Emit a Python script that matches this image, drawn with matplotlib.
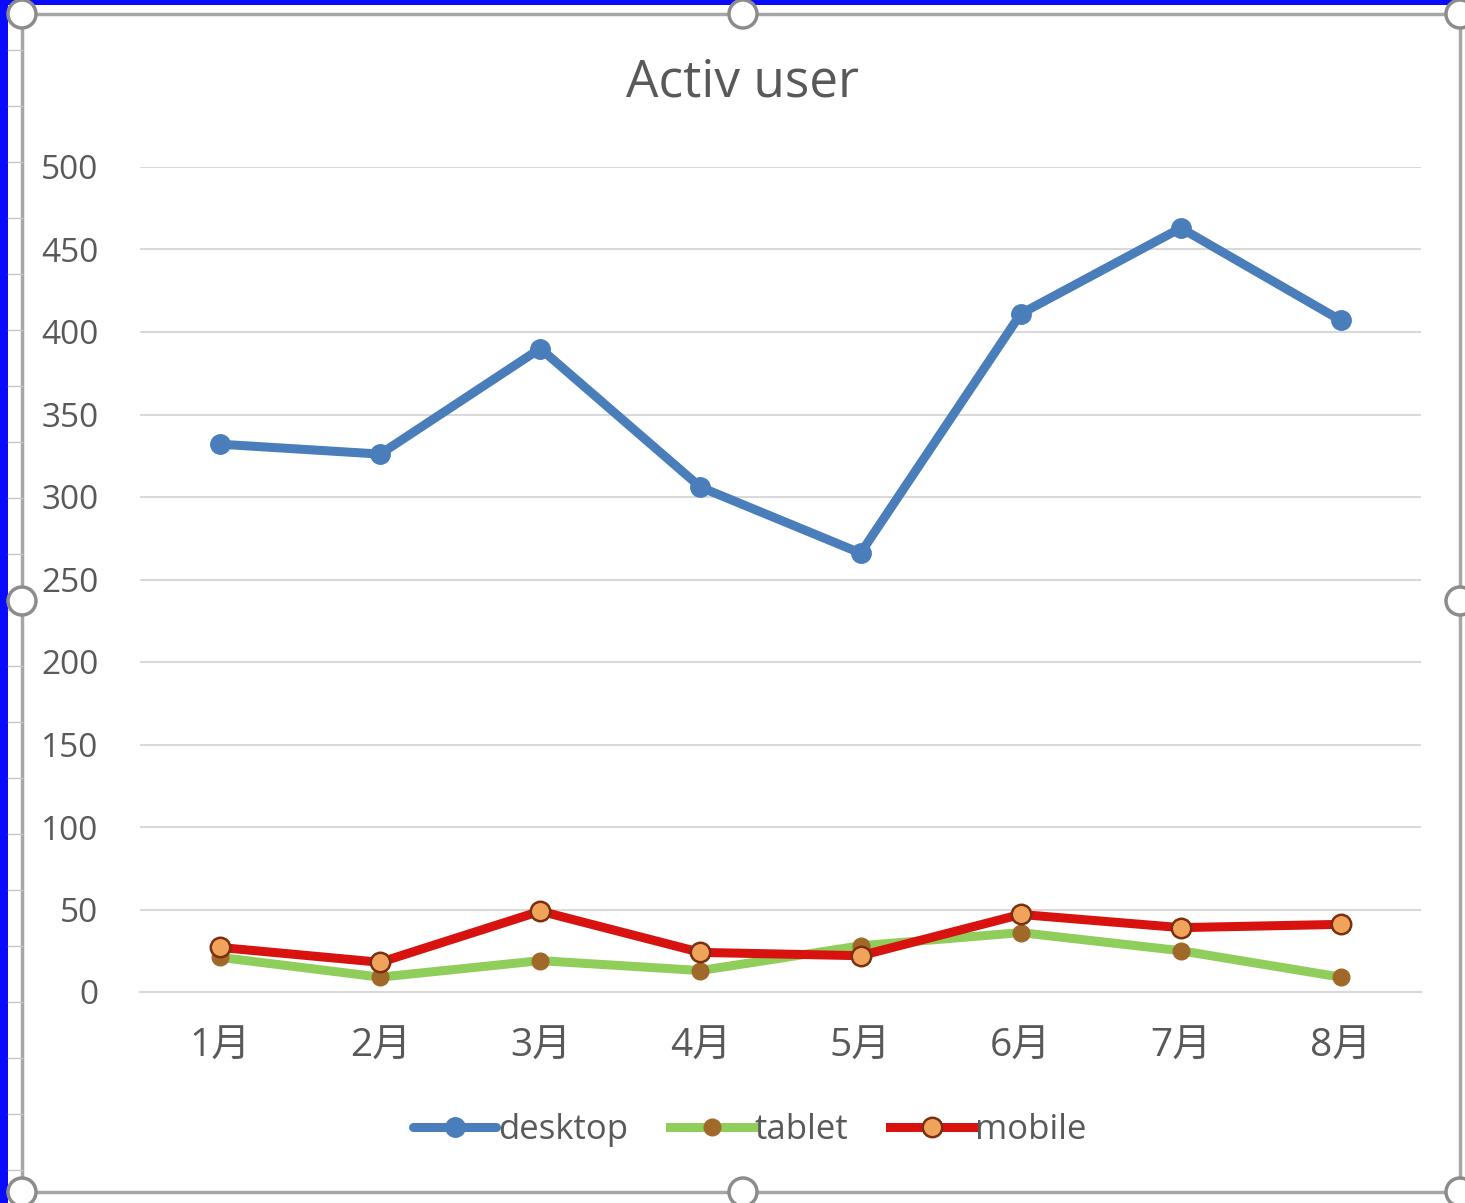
import matplotlib
matplotlib.use("Agg")
import matplotlib.pyplot as plt
from matplotlib.patches import Rectangle, Circle

plt.rcParams['font.family'] = ['Open Sans', 'Noto Sans CJK JP', 'DejaVu Sans']

# ─── DATA ────────────────────────────────────────────────
months = ["1月", "2月", "3月", "4月", "5月", "6月", "7月", "8月"]
desktop = [332, 326, 390, 306, 266, 411, 463, 407]
tablet = [21, 9, 19, 13, 28, 36, 25, 9]
mobile = [27, 18, 49, 24, 22, 47, 39, 41]
yticks = [0, 50, 100, 150, 200, 250, 300, 350, 400, 450, 500]

W, H = 1465, 1203
fig = plt.figure(figsize=(W / 100, H / 100), dpi=100)
fig.patch.set_facecolor("#0a0aff")

# hintergrund: excel-auswahlrahmen
bg = fig.add_axes([0, 0, 1, 1], zorder=0)
bg.set_xlim(0, W)
bg.set_ylim(H, 0)
bg.axis("off")
bg.add_patch(Rectangle((8, 5), W, H, facecolor="white", edgecolor="none"))
frame = dict(color="#a6a6a6", lw=2.5)
bg.plot([22, 22], [14, 1192], **frame)
bg.plot([22, 1460], [14, 14], **frame)
bg.plot([22, 1460], [1192, 1192], **frame)
bg.plot([1460, 1460], [14, 1192], **frame)
for yy in range(50, 1190, 56):
    bg.plot([8, 22], [yy, yy], color="#c8c8c8", lw=1)
for hx, hy in [(22, 14), (743, 14), (1460, 14), (22, 601), (1460, 601),
               (22, 1192), (743, 1192), (1460, 1192)]:
    bg.add_patch(Circle((hx, hy), 14, facecolor="white", edgecolor="#8c8c8c", lw=2.5, zorder=5))

# diagramm
ax = fig.add_axes([140 / W, 1 - 992 / H, (1421 - 140) / W, (992 - 167) / H], zorder=1)
ax.set_facecolor("none")
x = list(range(len(months)))

ax.plot(x, desktop, color="#4a7ebb", lw=6.5, marker="o", ms=14,
        mfc="#4a7ebb", mec="#4a7ebb", label="desktop", solid_capstyle="round", zorder=4)
ax.plot(x, tablet, color="#8fce5a", lw=6.5, marker="o", ms=12,
        mfc="#a0692a", mec="#a0692a", label="tablet", zorder=3)
ax.plot(x, mobile, color="#d8120f", lw=6.5, marker="o", ms=14,
        mfc="#f0a35a", mec="#7a3010", mew=1.8, label="mobile", zorder=4)

ax.set_xlim(-0.5, len(months) - 0.5)
ax.set_ylim(0, 500)
ax.set_yticks(yticks)
ax.set_xticks(x)
ax.set_xticklabels(months)
ax.yaxis.grid(True, color="#d9d9d9", lw=1.5)
ax.set_axisbelow(True)
for s in ["top", "right", "left"]:
    ax.spines[s].set_visible(False)
ax.spines["bottom"].set_color("#d9d9d9")
ax.spines["bottom"].set_linewidth(1.5)
ax.tick_params(axis="both", length=0, colors="#595959")
ax.tick_params(axis="y", pad=30, labelsize=24)
ax.tick_params(axis="x", pad=26, labelsize=28)

fig.text(743 / W, 1 - 83 / H, "Activ user", ha="center", va="center",
         fontsize=37, color="#595959")

leg = fig.legend(loc="center", bbox_to_anchor=(750 / W, 1 - 1130 / H), ncol=3,
                 frameon=False, fontsize=25, handlelength=2.4, handletextpad=0.05,
                 columnspacing=1.2, labelcolor="#595959")

fig.savefig("out.png", dpi=100, facecolor=fig.get_facecolor())
